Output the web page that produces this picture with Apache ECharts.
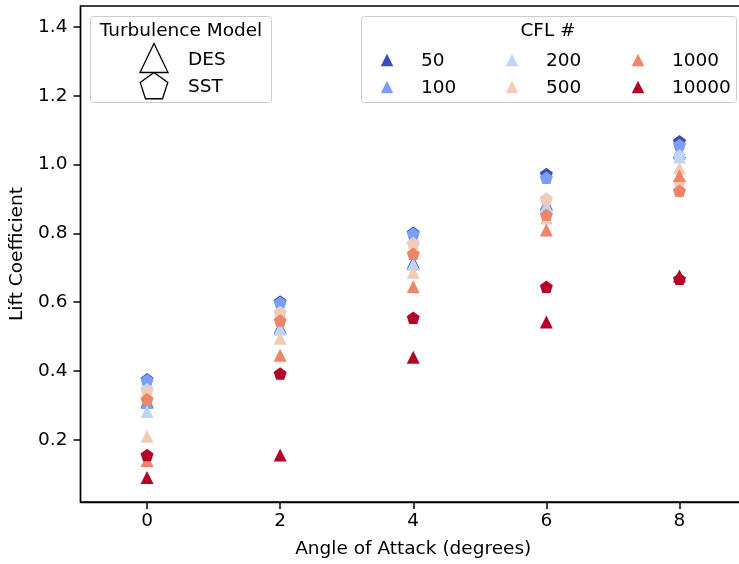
<!DOCTYPE html>
<html>
<head>
<meta charset="utf-8">
<script src="https://cdn.jsdelivr.net/npm/echarts@6/dist/echarts.min.js"></script>
<style>
  html, body { margin: 0; padding: 0; background: #fff; overflow: hidden; }
  #chart { width: 746px; height: 564px; }
</style>
</head>
<body>
<div id="chart"></div>
<script>
// angle of attack (degrees)
const angles = [0, 2, 4, 6, 8];
const cflLabels = ['50', '100', '200', '500', '1000', '10000'];
const cflColors = ['#3b4cc0', '#7b9ff9', '#c0d4f5', '#f2cbb7', '#ee8468', '#b40426'];
const xTicks = [0, 2, 4, 6, 8];
const yTicks = [0.2, 0.4, 0.6, 0.8, 1.0, 1.2, 1.4];

// DES (triangles)
const des50    = [0.312, 0.527, 0.716, 0.886, 1.038];
const des100   = [0.308, 0.523, 0.711, 0.882, 1.033];
const des200   = [0.282, 0.523, 0.710, 0.880, 1.022];
const des500   = [0.210, 0.495, 0.687, 0.845, 0.990];
const des1000  = [0.140, 0.446, 0.645, 0.810, 0.968];
const des10000 = [0.090, 0.156, 0.440, 0.542, 0.676];

// SST (pentagons)
const sst50    = [0.374, 0.600, 0.800, 0.971, 1.066];
const sst100   = [0.371, 0.597, 0.797, 0.960, 1.055];
const sst200   = [0.345, 0.570, 0.770, 0.900, 1.025];
const sst500   = [0.339, 0.568, 0.768, 0.898, 0.948];
const sst1000  = [0.316, 0.545, 0.739, 0.852, 0.922];
const sst10000 = [0.154, 0.391, 0.553, 0.643, 0.666];

const desRuns = [des50, des100, des200, des500, des1000, des10000];
const sstRuns = [sst50, sst100, sst200, sst500, sst1000, sst10000];

const PENTAGON = 'path://M0,-1L0.951,-0.309L0.588,0.809L-0.588,0.809L-0.951,-0.309Z';
const FONT = 'DejaVu Sans';
const FONT_SIZE = 18.5;

const chart = echarts.init(document.getElementById('chart'));

const series = [];
cflLabels.forEach((cfl, i) => {
    series.push({
        name: 'DES ' + cfl,
        type: 'scatter',
        symbol: 'triangle',
        symbolSize: [13, 13],
        itemStyle: { color: cflColors[i], opacity: 1 },
        data: angles.map((a, j) => [a, desRuns[i][j]]),
        silent: true,
    });
    series.push({
        name: 'SST ' + cfl,
        type: 'scatter',
        symbol: PENTAGON,
        symbolSize: [13, 12.4],
        symbolOffset: [0, -0.6],
        itemStyle: { color: cflColors[i], opacity: 1 },
        data: angles.map((a, j) => [a, sstRuns[i][j]]),
        silent: true,
    });
});

function triPoints(cx, cy, w, h) {
    return [[cx - w / 2, cy + h / 2], [cx + w / 2, cy + h / 2], [cx, cy - h / 2]];
}

function pentPoints(cx, cy, r) {
    const pts = [];
    for (let k = 0; k < 5; k++) {
        const ang = -Math.PI / 2 + k * 2 * Math.PI / 5;
        pts.push([cx + r * Math.cos(ang), cy + r * Math.sin(ang)]);
    }
    return pts;
}

const textStyle = { fontFamily: FONT, fontSize: FONT_SIZE, fill: '#000' };

const graphics = [
    // turbulence model legend
    { type: 'rect', shape: { x: 90.5, y: 16.5, width: 181, height: 86, r: 3 },
      style: { fill: 'rgba(255,255,255,0.8)', stroke: '#cccccc', lineWidth: 1 }, z: 10 },
    { type: 'text', x: 181, y: 31, style: Object.assign({ text: 'Turbulence Model', align: 'center', verticalAlign: 'middle' }, textStyle), z: 11 },
    { type: 'polygon', shape: { points: triPoints(154, 58, 28, 29) },
      style: { fill: '#fff', stroke: '#000', lineWidth: 1.3 }, z: 11 },
    { type: 'polygon', shape: { points: pentPoints(154, 87, 14.5) },
      style: { fill: '#fff', stroke: '#000', lineWidth: 1.3 }, z: 11 },
    { type: 'text', x: 188, y: 60, style: Object.assign({ text: 'DES', verticalAlign: 'middle' }, textStyle), z: 11 },
    { type: 'text', x: 188, y: 87, style: Object.assign({ text: 'SST', verticalAlign: 'middle' }, textStyle), z: 11 },

    // CFL legend
    { type: 'rect', shape: { x: 361.5, y: 16.5, width: 375, height: 86, r: 3 },
      style: { fill: 'rgba(255,255,255,0.8)', stroke: '#cccccc', lineWidth: 1 }, z: 10 },
    { type: 'text', x: 548, y: 31, style: Object.assign({ text: 'CFL #', align: 'center', verticalAlign: 'middle' }, textStyle), z: 11 },
];

const colX = [387, 512, 638];
const colTextX = [421, 546, 672];
const rowY = [60, 87];
cflLabels.forEach((cfl, i) => {
    const c = Math.floor(i / 2);
    const r = i % 2;
    graphics.push({ type: 'polygon', shape: { points: triPoints(colX[c], rowY[r], 12.5, 12.5) },
        style: { fill: cflColors[i] }, z: 11 });
    graphics.push({ type: 'text', x: colTextX[c], y: rowY[r] + 1,
        style: Object.assign({ text: cfl, verticalAlign: 'middle' }, textStyle), z: 11 });
});

const axisLineStyle = { color: '#000', width: 1.4 };
const tickStyle = { color: '#000', width: 1.5 };

const option = {
    animation: false,
    backgroundColor: '#fff',
    textStyle: { fontFamily: FONT },
    grid: {
        // plot area runs a little past the right edge of the visible window
        left: 80.5, right: 0, top: 6, bottom: 61,
        show: true, borderColor: '#000', borderWidth: 1.4,
        containLabel: false,
    },
    xAxis: {
        type: 'value',
        min: -1, max: 9,
        name: 'Angle of Attack (degrees)',
        nameLocation: 'middle',
        nameGap: 38,
        nameTextStyle: { fontFamily: FONT, fontSize: FONT_SIZE, color: '#000' },
        splitLine: { show: false },
        axisLine: { show: true, onZero: false, lineStyle: axisLineStyle },
        axisTick: { show: true, inside: false, length: 7, customValues: xTicks, lineStyle: tickStyle },
        axisLabel: { customValues: xTicks, fontFamily: FONT, fontSize: FONT_SIZE, color: '#000', margin: 10 },
    },
    yAxis: {
        type: 'value',
        min: 0.019, max: 1.461,
        name: 'Lift Coefficient',
        nameLocation: 'middle',
        nameGap: 51,
        nameRotate: 90,
        nameTextStyle: { fontFamily: FONT, fontSize: FONT_SIZE, color: '#000' },
        splitLine: { show: false },
        axisLine: { show: true, onZero: false, lineStyle: axisLineStyle },
        axisTick: { show: true, inside: false, length: 7, customValues: yTicks, lineStyle: tickStyle },
        axisLabel: { customValues: yTicks, fontFamily: FONT, fontSize: FONT_SIZE, color: '#000', margin: 13,
                     formatter: v => v.toFixed(1) },
    },
    series: series,
    graphic: graphics,
};

chart.setOption(option);
</script>
</body>
</html>
